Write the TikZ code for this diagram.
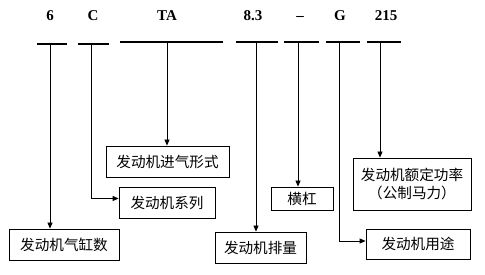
\documentclass[tikz,border=0pt]{standalone}
\usepackage{fontspec}
\setmainfont{Liberation Serif}
\newfontfamily\cjk{Noto Sans CJK SC}
\usetikzlibrary{positioning,arrows.meta,calc}
\tikzset{
  codelabel/.style={font=\bfseries\fontsize{15}{17}\selectfont,inner sep=0pt},
  codebar/.style={line width=2.6pt},
  descbox/.style={draw,line width=0.8pt,font=\cjk\fontsize{14.6}{18}\selectfont,inner sep=2pt,align=center},
  every edge/.style={draw,-{Triangle[length=6pt,width=5pt]},line width=0.8pt},
}

\begin{document}
\begin{tikzpicture}[x=1pt,y=-1pt]
\useasboundingbox (0,0) rectangle (485,275);

% model code, one part per column
\node[codelabel] (l6)   at (50,16)  {6};
\node[codelabel] (lC)   at (93,16)  {C};
\node[codelabel] (lTA)  at (167,16) {TA};
\node[codelabel] (l83)  at (253,16) {8.3};
\node[codelabel] (ldash) at (300,18) {\raisebox{-2pt}{--}};
\node[codelabel] (lG)   at (340,16) {G};
\node[codelabel] (l215) at (386,16) {215};

% thick bars under the code parts, with the point where each line leaves
\foreach \nm/\xa/\xb/\yb/\xv in {b6/37/67/44/50, bC/78/109/44/91, bTA/120/223/42/167,
    b83/236/278/42/256, bdash/284/319/42/298, bG/326/360/42/339, b215/367/401/42/380}{
  \draw[codebar] (\xa,\yb) -- (\xb,\yb);
  \coordinate (\nm) at (\xv,\yb);
}

% meaning of each part
\node[descbox,minimum width=123pt,minimum height=31pt] (intake) at (167.5,161.5) {发动机进气形式};
\node[descbox,minimum width=96pt,minimum height=31pt]  (series) at (167,202.5)   {发动机系列};
\node[descbox,minimum width=110pt,minimum height=31pt] (cyl)    at (64,244.5)    {发动机气缸数};
\node[descbox,minimum width=91pt,minimum height=31pt]  (disp)   at (260.5,247.5) {发动机排量};
\node[descbox,minimum width=62pt,minimum height=23pt]  (dash)   at (302,198.5)   {横杠};
\node[descbox,minimum width=118pt,minimum height=52pt] (power)  at (412,184)     {发动机额定功率\\（公制马力）};
\node[descbox,minimum width=104pt,minimum height=30pt] (use)    at (418,244)     {发动机用途};

% straight down
\path
(b6) edge (b6 |- cyl.north)
(bTA) edge (bTA |- intake.north)
(b83) edge (b83 |- disp.north)
(bdash) edge (bdash |- dash.north)
(b215) edge (b215 |- power.north);

% down, then right into the box
\path
(bC) edge[to path={|- (\tikztotarget)}] ([yshift=4pt]series.west)
(bG) edge[to path={|- (\tikztotarget)}] ([yshift=3pt]use.west);

\end{tikzpicture}
\end{document}
